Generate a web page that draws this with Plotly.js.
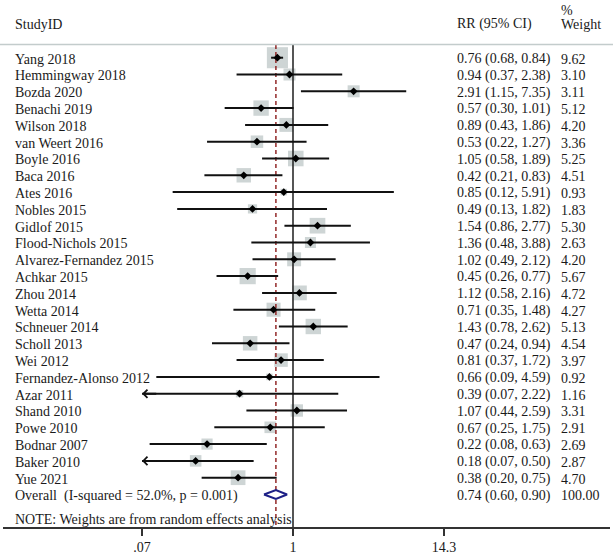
<!DOCTYPE html>
<html>
<head>
<meta charset="utf-8">
<script src="https://cdn.plot.ly/plotly-3.0.1.min.js"></script>
<style>html,body{margin:0;padding:0;background:#fff;}#chart{width:613px;height:554px;}</style>
</head>
<body>
<div id="chart"></div>
<script>
const studies = ["Yang 2018","Hemmingway 2018","Bozda 2020","Benachi 2019","Wilson 2018","van Weert 2016","Boyle 2016","Baca 2016","Ates 2016","Nobles 2015","Gidlof 2015","Flood-Nichols 2015","Alvarez-Fernandez 2015","Achkar 2015","Zhou 2014","Wetta 2014","Schneuer 2014","Scholl 2013","Wei 2012","Fernandez-Alonso 2012","Azar 2011","Shand 2010","Powe 2010","Bodnar 2007","Baker 2010","Yue 2021"];
const rr = [0.76,0.94,2.91,0.57,0.89,0.53,1.05,0.42,0.85,0.49,1.54,1.36,1.02,0.45,1.12,0.71,1.43,0.47,0.81,0.66,0.39,1.07,0.67,0.22,0.18,0.38];
const lo = [0.68,0.37,1.15,0.30,0.43,0.22,0.58,0.21,0.12,0.13,0.86,0.48,0.49,0.26,0.58,0.35,0.78,0.24,0.37,0.09,0.07,0.44,0.25,0.08,0.07,0.20];
const hi = [0.84,2.38,7.35,1.01,1.86,1.27,1.89,0.83,5.91,1.82,2.77,3.88,2.12,0.77,2.16,1.48,2.62,0.94,1.72,4.59,2.22,2.59,1.75,0.63,0.50,0.75];
const weights = [9.62,3.10,3.11,5.12,4.20,3.36,5.25,4.51,0.93,1.83,5.30,2.63,4.20,5.67,4.72,4.27,5.13,4.54,3.97,0.92,1.16,3.31,2.91,2.69,2.87,4.70];
const overallLabel = "Overall\u00a0\u00a0(I-squared = 52.0%, p = 0.001)";
const overall = {rr: 0.74, lo: 0.60, hi: 0.90, weight: "100.00"};
const tickVals = [0.07, 1, 14.3];
const tickText = [".07", "1", "14.3"];
const noteText = "NOTE: Weights are from random effects analysis";

const FONT = '"Liberation Serif","Times New Roman",serif';
const TXT = '#1a1a1a';
const n = studies.length;
const rows = studies.map((s,i)=>i);
const overallRow = n;
const W = 613, L = 3, R = 3;
const PW = W - L - R;
const px = v => (v - L) / PW;   // paper x from pixel x
const rowTop = -3.435, rowBottom = 27.935;
const xMin = tickVals[0];

const fmt = v => v.toFixed(2);

// CI segments
const ciX = [], ciY = [];
rows.forEach(i => { ciX.push(Math.max(lo[i], xMin), hi[i], null); ciY.push(i, i, null); });

const traces = [
  {type:'scatter', mode:'markers', x: rr, y: rows, hoverinfo:'skip',
   marker:{symbol:'square', size: weights.map(w => 6.8*Math.sqrt(w)), color:'#b9c3c3', line:{width:0}}},
  {type:'scatter', mode:'lines', x:[1,1], y:[-0.756, rowBottom], hoverinfo:'skip',
   line:{color:'#2b2b2b', width:1.6}},
  {type:'scatter', mode:'lines', x:[overall.rr, overall.rr], y:[-0.756, rowBottom], hoverinfo:'skip',
   line:{color:'#8b1a1a', width:1.4, dash:'4px,3px'}},
  {type:'scatter', mode:'lines', x: ciX, y: ciY, hoverinfo:'skip', connectgaps:false,
   line:{color:'#111', width:2}},
  {type:'scatter', mode:'markers', x: rr, y: rows, hoverinfo:'skip',
   marker:{symbol:'diamond', size:6, color:'#000'}},
  {type:'scatter', mode:'lines', fill:'toself', fillcolor:'#ffffff', hoverinfo:'skip',
   x:[overall.lo, overall.rr, overall.hi, overall.rr, overall.lo],
   y:[overallRow, overallRow-0.27, overallRow, overallRow+0.27, overallRow],
   line:{color:'#1c1f86', width:2}}
];

const ann = [];
const addText = (text, xp, y, anchor) => ann.push({text, xref:'paper', yref:'y', x: px(xp), y, xanchor: anchor||'left', yanchor:'middle', showarrow:false, font:{family:FONT, size:14, color:TXT}});
addText("StudyID", 13, -2.0);
addText("RR (95% CI)", 455, -2.0);
addText("%", 559, -2.84);
addText("Weight", 559, -2.0);
rows.forEach(i => {
  addText(studies[i], 13, i + 0.08);
  addText(fmt(rr[i]) + " (" + fmt(lo[i]) + ", " + fmt(hi[i]) + ")", 455, i + 0.08);
  addText(fmt(weights[i]), 559, i + 0.08);
});
addText(overallLabel, 13, overallRow + 0.08);
addText(fmt(overall.rr) + " (" + fmt(overall.lo) + ", " + fmt(overall.hi) + ")", 455, overallRow + 0.08);
addText(overall.weight, 559, overallRow + 0.08);
addText(noteText, 13, 27.46);

rows.forEach(i => {
  if (lo[i] <= xMin) {
    ann.push({xref:'x', yref:'y', axref:'x', ayref:'y', x: Math.log10(xMin), y: i, ax: Math.log10(xMin) + 0.12, ay: i,
      text:'', showarrow:true, arrowhead:4, arrowsize:0.8, arrowwidth:2, arrowcolor:'#111', standoff:0, startstandoff:0});
  }
});

const layout = {
  width: 613, height: 554,
  margin: {l: L, r: R, t: 0, b: 27, pad: 0},
  paper_bgcolor: '#fff', plot_bgcolor: '#fff',
  showlegend: false,
  xaxis: {type:'log', range:[-2.2188, 2.4254], showgrid:false, zeroline:false,
    showline:true, linecolor:'#333', linewidth:1.5,
    ticks:'outside', ticklen:7, tickwidth:1.2, tickcolor:'#333',
    tickvals: tickVals, ticktext: tickText,
    tickfont:{family:FONT, size:14, color:TXT}, fixedrange:true},
  yaxis: {range:[rowBottom, rowTop], visible:false, showgrid:false, zeroline:false, fixedrange:true},
  shapes: [
    {type:'line', xref:'paper', yref:'paper', x0: -L/PW, x1: 1 + R/PW, y0: 1 - 44.5/527, y1: 1 - 44.5/527,
     line:{color:'#c3cccc', width:1.5}}
  ],
  annotations: ann
};

Plotly.newPlot('chart', traces, layout, {staticPlot:true, displayModeBar:false});
</script>
</body>
</html>
